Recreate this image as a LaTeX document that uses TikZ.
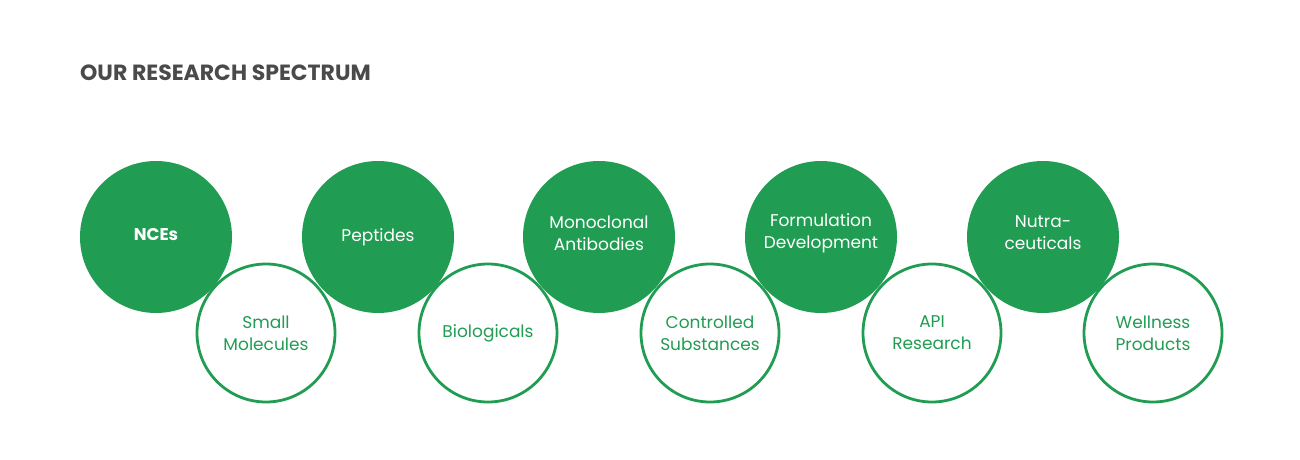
\documentclass[tikz,border=0pt]{standalone}
\usepackage{fontspec}
\setmainfont{Poppins}
\definecolor{brandgreen}{RGB}{32,157,82}
\definecolor{titlegray}{RGB}{74,74,74}
\begin{document}
\begin{tikzpicture}[x=1pt,y=-1pt,
  solidcirc/.style={circle,fill=brandgreen,minimum size=152pt,inner sep=0pt,text=white,align=center,font=\fontsize{17}{22}\selectfont},
  ringcirc/.style={circle,draw=brandgreen,line width=2.8pt,fill=white,minimum size=138pt,inner sep=0pt,text=brandgreen,align=center,font=\fontsize{17}{22}\selectfont},
  titletext/.style={anchor=west,text=titlegray,font=\bfseries\fontsize{22}{24}\selectfont,inner sep=0pt},
  lbl/.style={align=center,inner sep=0pt,font=\fontsize{17}{22}\selectfont}]
\useasboundingbox[fill=white] (0,0) rectangle (1300,460);
\node[titletext] (title) at (80,73) {OUR RESEARCH SPECTRUM};
\node[solidcirc] (c1) at (156,237) {};
\node[lbl,text=white,font=\bfseries\fontsize{17}{22}\selectfont] (t1) at (156,235) {NCEs};
\node[ringcirc] (r1) at (266,333) {Small\\Molecules};
\node[solidcirc] (c2) at (378,237) {Peptides};
\node[ringcirc] (r2) at (488,333) {Biologicals};
\node[solidcirc] (c3) at (599,237) {};
\node[lbl,text=white] (t3) at (599,233) {Monoclonal\\Antibodies};
\node[ringcirc] (r3) at (710,333) {Controlled\\Substances};
\node[solidcirc] (c4) at (821,237) {};
\node[lbl,text=white] (t4) at (821,233) {Formulation\\Development};
\node[ringcirc] (r4) at (932,333) {API\\Research};
\node[solidcirc] (c5) at (1043,237) {};
\node[lbl,text=white] (t5) at (1043,233) {Nutra-\\ceuticals};
\node[ringcirc] (r5) at (1153,333) {Wellness\\Products};
\end{tikzpicture}
\end{document}
